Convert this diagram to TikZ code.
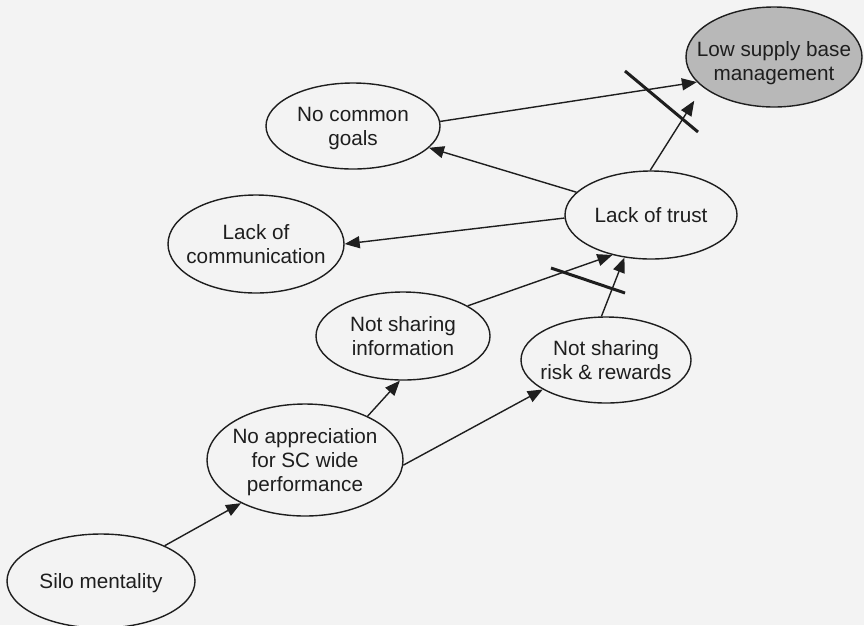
\documentclass[tikz,border=0pt]{standalone}
\usepackage{fontspec}
\setmainfont{Liberation Sans}
\usetikzlibrary{shapes.geometric,arrows.meta}
\definecolor{paper}{HTML}{F3F3F3}
\definecolor{goalfill}{HTML}{B8B8B8}
\definecolor{ink}{HTML}{1E1E1E}
\newcommand{\ovtext}[2][-8pt]{\raisebox{#1}[0pt][0pt]{\makebox[0pt]{\begin{tabular}{@{}c@{}}#2\end{tabular}}}}
\tikzset{
  oval/.style={ellipse,draw=ink,line width=1.4pt,inner sep=0pt,
    font=\fontsize{20.7}{24}\selectfont,text=ink},
  link/.style={line width=1.4pt,draw=ink,-{Triangle[length=15pt,width=12pt]}},
  delaymark/.style={line width=3pt,draw=ink},
}
\begin{document}
\begin{tikzpicture}[x=1pt,y=-1pt]
\fill[paper] (0,0) rectangle (864,625);
\useasboundingbox (0,0) rectangle (864,625);

\node[oval,fill=goalfill,minimum width=176pt,minimum height=100pt] (lsb) at (774,57) {\ovtext[-12pt]{Low supply base\\management}};
\node[oval,minimum width=174pt,minimum height=86pt] (ncg) at (353,126) {\ovtext{No common\\goals}};
\node[oval,minimum width=176pt,minimum height=98pt] (loc) at (256,244) {\ovtext{Lack of\\communication}};
\node[oval,minimum width=172pt,minimum height=88pt] (lot) at (651,215) {\ovtext{Lack of trust}};
\node[oval,minimum width=174pt,minimum height=88pt] (nsi) at (403,336) {\ovtext{Not sharing\\information}};
\node[oval,minimum width=170pt,minimum height=86pt] (nsr) at (606,360) {\ovtext{Not sharing\\risk \& rewards}};
\node[oval,minimum width=196pt,minimum height=112pt] (nap) at (305,460) {\ovtext{No appreciation\\for SC wide\\performance}};
\node[oval,minimum width=188pt,minimum height=94pt] (silo) at (101,581) {\ovtext{Silo mentality}};

\draw[link] (ncg.3.9) -- (lsb.198.7);
\draw[link,shorten >=16pt] (lot.91) -- (lsb.203.2);
\draw[link] (lot.163.9) -- (ncg.344.4);
\draw[link] (lot.182) -- (loc.0.7);
\draw[link] (nsi.25.8) -- (lot.226.4);
\draw[link] (nsr.96.8) -- (lot.238.1);
\draw[link] (nap.35.5) -- (nsi.266.3);
\draw[link] (nap.357) -- (nsr.205.6);
\draw[link] (silo.29.5) -- (nap.214.7);

\draw[delaymark] (625,71) -- (698,132);
\draw[delaymark] (551,268) -- (625,293);
\end{tikzpicture}
\end{document}
